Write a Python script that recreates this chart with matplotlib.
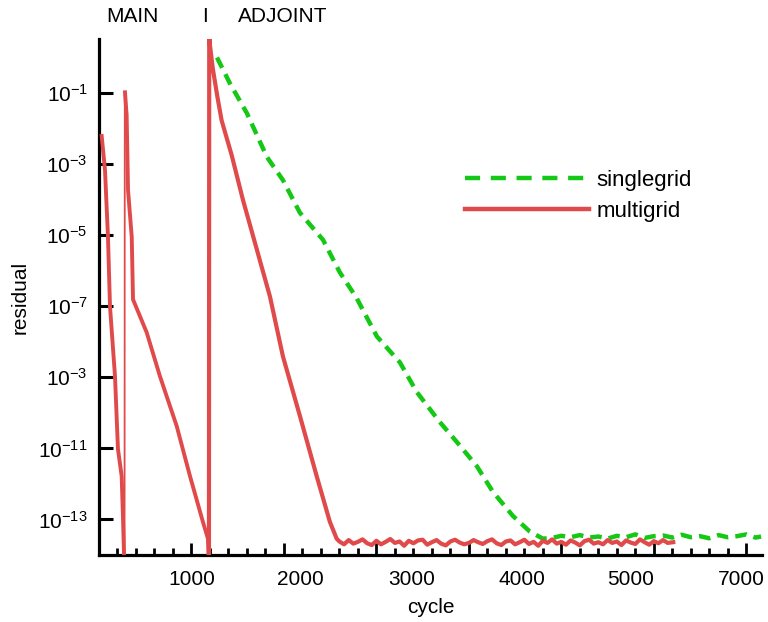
import numpy as np
import matplotlib
matplotlib.use("Agg")
import matplotlib.pyplot as plt
import matplotlib.transforms as mtrans
from matplotlib.lines import Line2D

plt.rcParams['font.family'] = ['Liberation Sans', 'DejaVu Sans']
plt.rcParams['mathtext.fontset'] = 'custom'
plt.rcParams['mathtext.rm'] = 'Liberation Sans'
plt.rcParams['mathtext.it'] = 'Liberation Sans:italic'

# ---------------- data (log10 residual) ----------------
# multigrid: main phase, first run
mg_main1_x = [29, 65, 97, 119, 173, 205, 245, 259, 270, 276]
mg_main1_log = [-2.21, -3.17, -5.05, -7.01, -8.97, -11.02, -11.78, -12.90, -13.94, -15.0]
# thin restart connector
mg_conn_x = [276, 279]
mg_conn_log = [-15.0, -0.98]
# main phase, restart
mg_main2_x = [281, 299, 314, 354, 368, 516, 659, 840, 984, 1124, 1178, 1189]
mg_main2_log = [-0.98, -1.63, -3.73, -5.05, -6.81, -7.74, -8.97, -10.37, -11.78, -13.07, -13.54, -14.3]
# adjoint phase
mg_adj_x = [1189, 1192, 1200, 1230, 1280, 1326, 1435, 1557, 1686, 1849, 1989, 2173, 2354, 2497, 2570]
mg_adj_log = [-14.3, 0.7, 0.34, -0.30, -1.10, -1.77, -2.75, -4.01, -5.21, -6.73, -8.41, -10.09, -11.78, -13.07, -13.54]
mg_floor_x = [2600, 2650, 2700, 2750, 2800, 2850, 2900, 2950, 3000, 3050, 3100, 3150, 3200,
              3250, 3300, 3350, 3400, 3450, 3500, 3550, 3600, 3650, 3700, 3750, 3800, 3850,
              3900, 3950, 4000, 4050, 4100, 4150, 4200, 4250, 4300, 4350, 4400, 4450, 4500,
              4550, 4600, 4650, 4700, 4750, 4800, 4850, 4900, 4950, 5000, 5050, 5100, 5150,
              5200, 5250, 5300, 5350, 5400, 5450, 5500, 5550, 5600, 5650, 5700, 5750, 5800,
              5850, 5900, 5950, 6000, 6050, 6100, 6150, 6210]
mg_floor_log = [-13.62, -13.70, -13.58, -13.68, -13.63, -13.56, -13.67, -13.72, -13.60, -13.70,
                -13.63, -13.55, -13.66, -13.62, -13.74, -13.60, -13.67, -13.59, -13.57, -13.71,
                -13.64, -13.58, -13.68, -13.73, -13.62, -13.57, -13.65, -13.70, -13.66, -13.58,
                -13.64, -13.69, -13.61, -13.56, -13.67, -13.72, -13.62, -13.59, -13.70, -13.64,
                -13.57, -13.69, -13.63, -13.74, -13.60, -13.66, -13.56, -13.68, -13.63, -13.71,
                -13.59, -13.65, -13.73, -13.61, -13.57, -13.68, -13.64, -13.70, -13.58, -13.66,
                -13.62, -13.72, -13.59, -13.65, -13.69, -13.56, -13.64, -13.71, -13.61, -13.67,
                -13.58, -13.66, -13.64]

# singlegrid adjoint
sg_x = [1276, 1416, 1600, 1816, 1989, 2173, 2422, 2605, 2784, 3005, 3254, 3438, 3686,
        3870, 4086, 4259, 4476, 4659, 4800]
sg_log = [0.0, -0.73, -1.57, -2.80, -3.45, -4.37, -5.13, -6.05, -6.76, -7.85, -8.58,
          -9.42, -10.26, -10.82, -11.50, -12.22, -12.90, -13.34, -13.54]
sg_floor_x = [4900, 5000, 5100, 5200, 5300, 5400, 5500, 5600, 5700, 5800, 5900, 6000,
              6100, 6200, 6300, 6400, 6500, 6600, 6700, 6800, 6900, 7000, 7100, 7160]
sg_floor_log = [-13.52, -13.46, -13.50, -13.44, -13.51, -13.48, -13.54, -13.46, -13.50, -13.42,
                -13.52, -13.47, -13.45, -13.51, -13.43, -13.50, -13.47, -13.53, -13.44, -13.50,
                -13.47, -13.42, -13.51, -13.48]

ytick_vals = [1e-1, 1e-3, 1e-5, 1e-7, 1e-9, 1e-11, 1e-13]
ytick_labels = [r'$10^{-1}$', r'$10^{-3}$', r'$10^{-5}$', r'$10^{-7}$', r'$10^{-3}$',
                r'$10^{-11}$', r'$10^{-13}$']
xlabel_pos = [1000, 2180, 3380, 4570, 5750, 6950]
xlabel_text = ['1000', '2000', '3000', '4000', '5000', '7000']
series_names = ['singlegrid', 'multigrid']

RED = '#e04a4a'
GREEN = '#16c816'
FS = 15

fig = plt.figure(figsize=(7.68, 6.22), dpi=100)
ax = fig.add_axes([99/768, 1-555/622, (762-99)/768, (555-39)/622])

p = lambda v: 10.0 ** np.asarray(v)
dash = (2.6, 1.6)
ax.plot(list(sg_x) + list(sg_floor_x), p(list(sg_log) + list(sg_floor_log)),
        color=GREEN, lw=3.2, dashes=dash, solid_capstyle='butt', zorder=2)
ax.plot(mg_main1_x, p(mg_main1_log), color=RED, lw=2.8, zorder=3)
ax.plot(mg_conn_x, p(mg_conn_log), color=RED, lw=1.3, zorder=3)
ax.plot(mg_main2_x, p(mg_main2_log), color=RED, lw=2.8, zorder=3)
ax.plot(list(mg_adj_x) + list(mg_floor_x), p(list(mg_adj_log) + list(mg_floor_log)),
        color=RED, lw=3.0, zorder=3)

ax.set_yscale('log')
ax.set_ylim(1e-14, 10 ** 0.52)
ax.set_xlim(0, 7170)

for s in ['top', 'right']:
    ax.spines[s].set_visible(False)
for s in ['left', 'bottom']:
    ax.spines[s].set_linewidth(2.3)

ax.set_yticks(ytick_vals)
ax.set_yticklabels(ytick_labels)
ax.yaxis.set_minor_locator(matplotlib.ticker.NullLocator())
ax.tick_params(axis='y', which='major', direction='in', length=10, width=2.2,
               labelsize=FS, pad=8)
ax.set_xticks([1000, 2000, 3000, 4000, 5000, 6000, 7000])
ax.set_xticks(np.arange(200, 7170, 200), minor=True)
ax.tick_params(axis='x', which='major', direction='in', length=8.5, width=2.0,
               labelbottom=False)
ax.tick_params(axis='x', which='minor', direction='in', length=5, width=2.0)

sec = ax.secondary_xaxis('bottom')
sec.set_xticks(xlabel_pos)
sec.set_xticklabels(xlabel_text)
sec.tick_params(length=0, labelsize=FS, pad=11)
sec.spines['bottom'].set_visible(False)
sec.set_xlabel('cycle', fontsize=FS, labelpad=6)
ax.set_ylabel('residual', fontsize=FS, labelpad=6)

tr = mtrans.blended_transform_factory(ax.transData, fig.transFigure)
ax.text(76, 1-17/622, 'MAIN', transform=tr, fontsize=FS, va='center', ha='left')
ax.text(1110, 1-17/622, 'I', transform=tr, fontsize=FS, va='center', ha='left')
ax.text(1503, 1-17/622, 'ADJOINT', transform=tr, fontsize=FS, va='center', ha='left')

handles = [Line2D([], [], color=GREEN, lw=3.2, dashes=(3.4, 2.4)),
           Line2D([], [], color=RED, lw=3.2)]
ax.legend(handles, series_names, loc='upper left', frameon=False, fontsize=16,
          bbox_to_anchor=(465/768, 1-170/622), bbox_transform=fig.transFigure,
          borderpad=0, borderaxespad=0, handlelength=5.6, handletextpad=0.3,
          labelspacing=0.45)

fig.savefig('out.png', dpi=100)
